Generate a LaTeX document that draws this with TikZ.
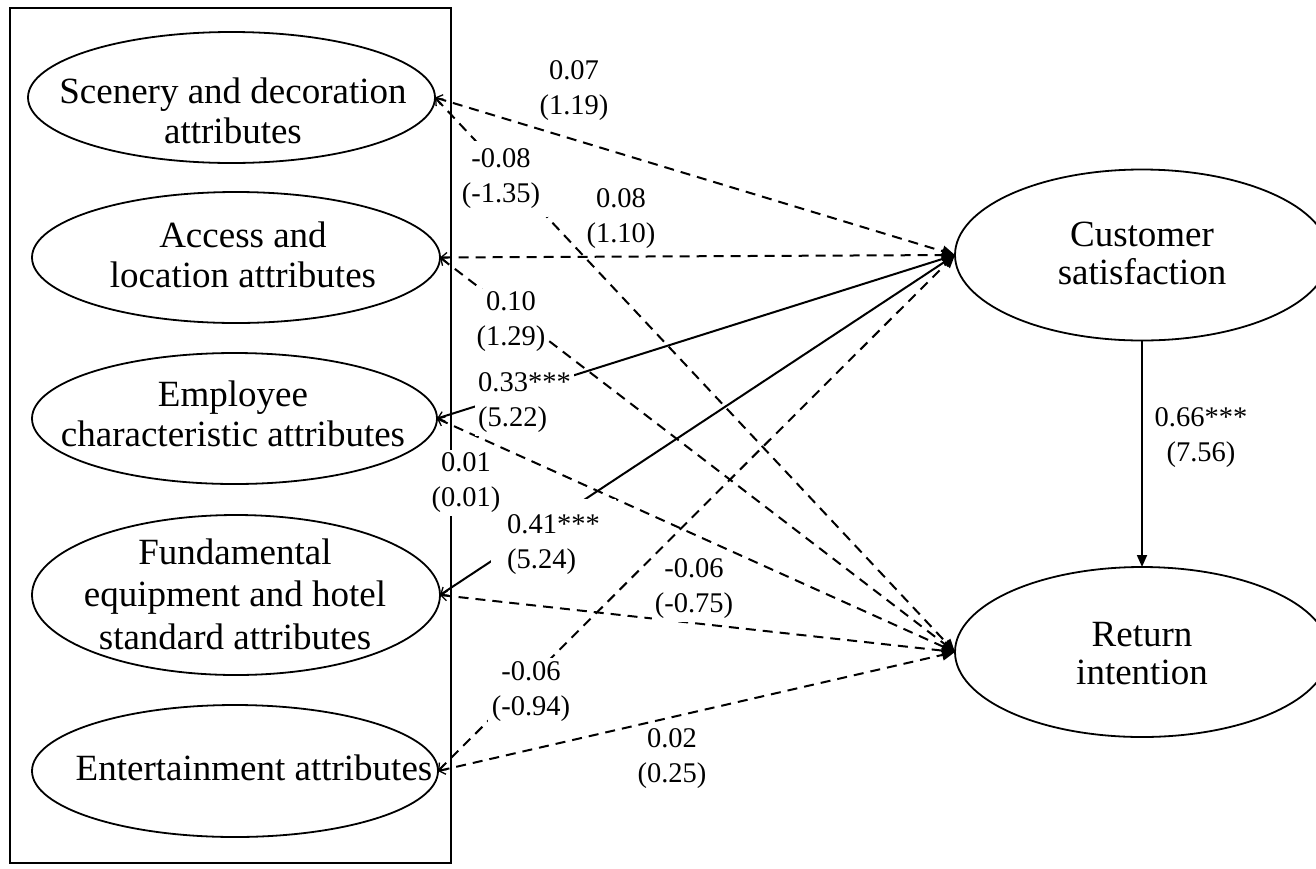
\documentclass[tikz,border=0pt]{standalone}
\usepackage{fontspec}
\setmainfont{Liberation Serif}
\usetikzlibrary{arrows.meta,shapes.geometric}
\begin{document}
\begin{tikzpicture}[x=1pt,y=-1pt,
  ell/.style={draw, ellipse, line width=1.8pt, inner sep=0pt, outer sep=0pt},
  big/.style={font=\fontsize{37}{40}\selectfont, align=center, inner sep=0pt},
  lab/.style={font=\fontsize{28.5}{35}\selectfont, align=center, fill=white, inner sep=3pt},
  lnk/.style={line width=2pt, {Straight Barb[length=6pt,width=10pt,line width=1.3pt]}-{Triangle[length=13pt,width=11pt]}},
  dlnk/.style={lnk, dash pattern=on 10pt off 7pt},
  frm/.style={draw, line width=2.8pt, inner sep=0pt, outer sep=0pt}
]
\useasboundingbox (0,0) rectangle (1316,868);
\fill[white] (0,0) rectangle (1316,868);

% frame around exogenous constructs
\node[frm, minimum width=441pt, minimum height=855pt] (frame) at (230.5,435.5) {};

% ellipses
\node[ell, minimum width=407pt, minimum height=131pt] (e1) at (231.5,97.5) {};
\node[ell, minimum width=408pt, minimum height=131pt] (e2) at (236,257.5) {};
\node[ell, minimum width=405pt, minimum height=131pt] (e3) at (234.5,418.5) {};
\node[ell, minimum width=408pt, minimum height=160pt] (e4) at (236,595) {};
\node[ell, minimum width=406pt, minimum height=132pt] (e5) at (235,771) {};
\node[ell, minimum width=374pt, minimum height=171pt] (cs) at (1142,255) {};
\node[ell, minimum width=374pt, minimum height=170pt] (ri) at (1142,652) {};

% texts
\node[big] (t1) at (233,110.5) {Scenery and decoration\\attributes};
\node[big] (t2) at (243,254.5) {Access and\\location attributes};
\node[big] (t3) at (233,413.5) {Employee\\characteristic attributes};
\node[big, font=\fontsize{37}{42.5}\selectfont] (t4) at (235,594) {Fundamental\\equipment and hotel\\standard attributes};
\node[big] (t5) at (254,768) {Entertainment attributes};
\node[big, font=\fontsize{37}{38}\selectfont] (t6) at (1142,253.5) {Customer\\satisfaction};
\node[big, font=\fontsize{37}{38}\selectfont] (t7) at (1142,653.5) {Return\\intention};

% connectors
\draw[dlnk] (e1.east) -- (cs.west);
\draw[dlnk] (e1.east) -- (ri.west);
\draw[dlnk] (e2.east) -- (cs.west);
\draw[dlnk] (e2.east) -- (ri.west);
\draw[lnk] (e3.east) -- (cs.west);
\draw[dlnk] (e3.east) -- (ri.west);
\draw[lnk] (e4.east) -- (cs.west);
\draw[dlnk] (e4.east) -- (ri.west);
\draw[dlnk] (e5.east) -- (cs.west);
\draw[dlnk] (e5.east) -- (ri.west);
\draw[line width=1.8pt, -{Triangle[length=12pt,width=10pt]}] (cs.south) -- (ri.north);

% labels
\node[lab] (l1) at (574,91) {0.07\\(1.19)};
\node[lab, inner sep=8pt] (l2) at (501,179) {-0.08\\(-1.35)};
\node[lab] (l3) at (621,219) {0.08\\(1.10)};
\node[lab] (l4) at (511,322) {0.10\\(1.29)};
\node[lab, anchor=west, align=left] (l5) at (475,402.5) {0.33***\\(5.22)};
\node[lab, anchor=west, align=left, inner sep=16pt] (l7) at (491,545) {0.41***\\(5.24)};
\node[lab] (l6) at (466,483) {0.01\\(0.01)};
\node[lab] (l8) at (694,589) {-0.06\\(-0.75)};
\node[lab, inner sep=4pt] (l9) at (531,692) {-0.06\\(-0.94)};
\node[lab] (l10) at (672,759) {0.02\\(0.25)};
\node[lab] (l11) at (1201,438) {0.66***\\(7.56)};
\end{tikzpicture}
\end{document}
